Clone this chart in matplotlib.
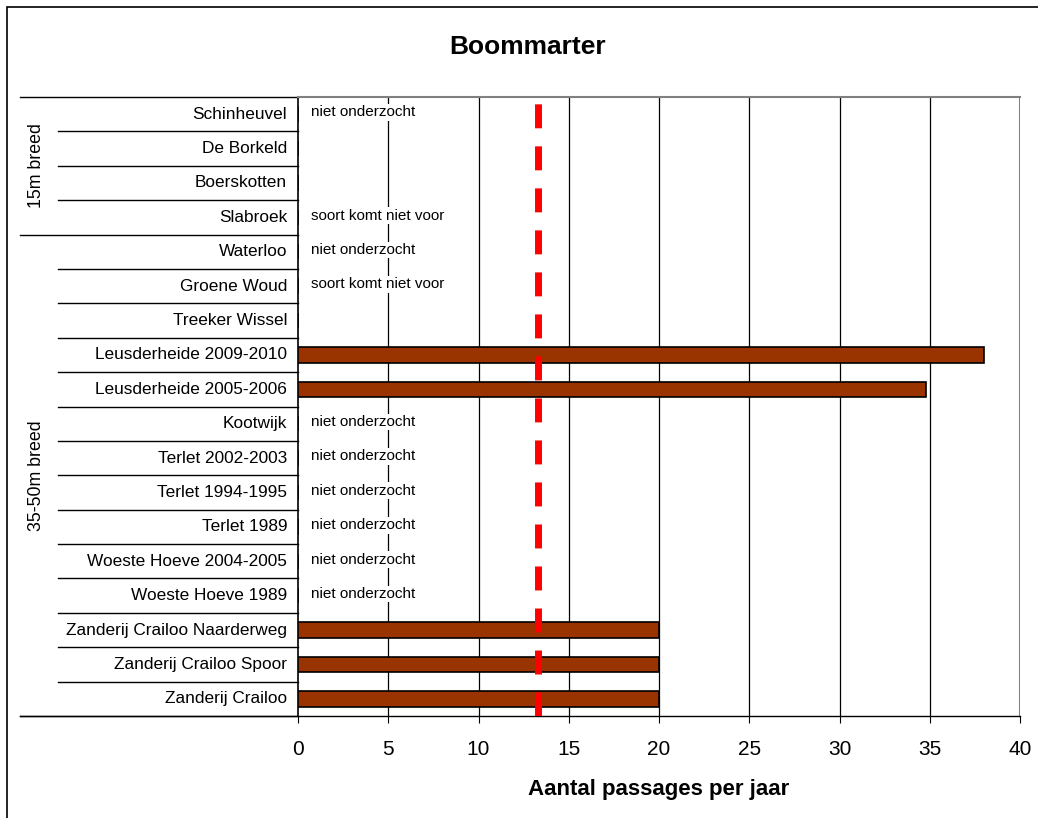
import numpy as np
import matplotlib.pyplot as plt
import matplotlib.transforms as mtransforms
from matplotlib.patches import Rectangle

# data, top row first
locaties = ["Schinheuvel", "De Borkeld", "Boerskotten", "Slabroek", "Waterloo",
            "Groene Woud", "Treeker Wissel", "Leusderheide 2009-2010",
            "Leusderheide 2005-2006", "Kootwijk", "Terlet 2002-2003",
            "Terlet 1994-1995", "Terlet 1989", "Woeste Hoeve 2004-2005",
            "Woeste Hoeve 1989", "Zanderij Crailoo Naarderweg",
            "Zanderij Crailoo Spoor", "Zanderij Crailoo"]
passages = [0, 0, 0, 0, 0, 0, 0, 38, 34.8, 0, 0, 0, 0, 0, 0, 20, 20, 20]
opmerking = ["niet onderzocht", "", "", "soort komt niet voor", "niet onderzocht",
             "soort komt niet voor", "", "", "", "niet onderzocht", "niet onderzocht",
             "niet onderzocht", "niet onderzocht", "niet onderzocht",
             "niet onderzocht", "", "", ""]
groepen = ["15m breed", "35-50m breed"]
groep_rijen = [(0, 3), (4, 17)]
referentie = 13.3
xticks = [0, 5, 10, 15, 20, 25, 30, 35, 40]

plt.rcParams['font.family'] = ['Liberation Sans', 'DejaVu Sans']

W, H = 1038, 818
fig = plt.figure(figsize=(W / 100, H / 100), dpi=100)
ax = fig.add_axes([298 / W, 1 - 716 / H, (1020 - 298) / W, (716 - 97) / H])

# outer frame
fig.patches.append(Rectangle((7 / W, -0.01), 1.02, 1 - 7 / H + 0.01, transform=fig.transFigure,
                             fill=False, edgecolor='black', linewidth=1.2))

y = np.arange(len(locaties))
ax.barh(y, passages, height=0.45, color='#993300', edgecolor='black', linewidth=1.2, zorder=3)

for x in xticks[1:-1]:
    ax.axvline(x, color='black', linewidth=0.9, zorder=1)
ax.axvline(40, color='#808080', linewidth=1.5, zorder=1)

ax.axvline(referentie, color='#ff0000', linewidth=5, dashes=(3.45, 2.6), zorder=5)

for i, t in enumerate(opmerking):
    if t:
        ax.text(0.7, i - 0.05, t, fontsize=11, va='center', ha='left', zorder=4,
                bbox=dict(facecolor='white', edgecolor='none', pad=1))

ax.set_xlim(0, 40)
ax.set_ylim(len(locaties) - 0.5, -0.5)
ax.set_xticks(xticks)
ax.set_yticks([])
ax.tick_params(axis='x', length=5, labelsize=15, pad=12)
for s in ['right', 'bottom']:
    ax.spines[s].set_visible(False)
ax.spines['top'].set_color('#808080')
ax.spines['top'].set_linewidth(1.5)
ax.spines['left'].set_linewidth(1.2)

trans = mtransforms.blended_transform_factory(ax.transAxes, ax.transData)
start = [0] + [r[0] for r in groep_rijen[1:]]
for i, naam in enumerate(locaties):
    ax.text(-0.015, i, naam, transform=trans, ha='right', va='center', fontsize=12.4)
# row separators
for b in range(len(locaties) + 1):
    yb = b - 0.5
    groepgrens = b == 0 or b == len(locaties) or b in start
    x0 = (20 - 298) / 722 if groepgrens else (58 - 298) / 722
    ax.plot([x0, 0], [yb, yb], transform=trans, color='black', linewidth=1, clip_on=False)
# bottom axis line across
ax.plot([(20 - 298) / 722, 1], [len(locaties) - 0.5] * 2, transform=trans,
        color='black', linewidth=1, clip_on=False)

for naam, (a, b) in zip(groepen, groep_rijen):
    ax.text((37 - 298) / 722, (a + b) / 2, naam, transform=trans, rotation=90,
            ha='center', va='center', fontsize=12.8)

ax.set_xlabel("Aantal passages per jaar", fontsize=16, fontweight='bold', labelpad=15)
fig.text(528 / W, 1 - 47 / H, "Boommarter", ha='center', va='center', fontsize=19,
         fontweight='bold')

fig.savefig("out.png", dpi=100)
